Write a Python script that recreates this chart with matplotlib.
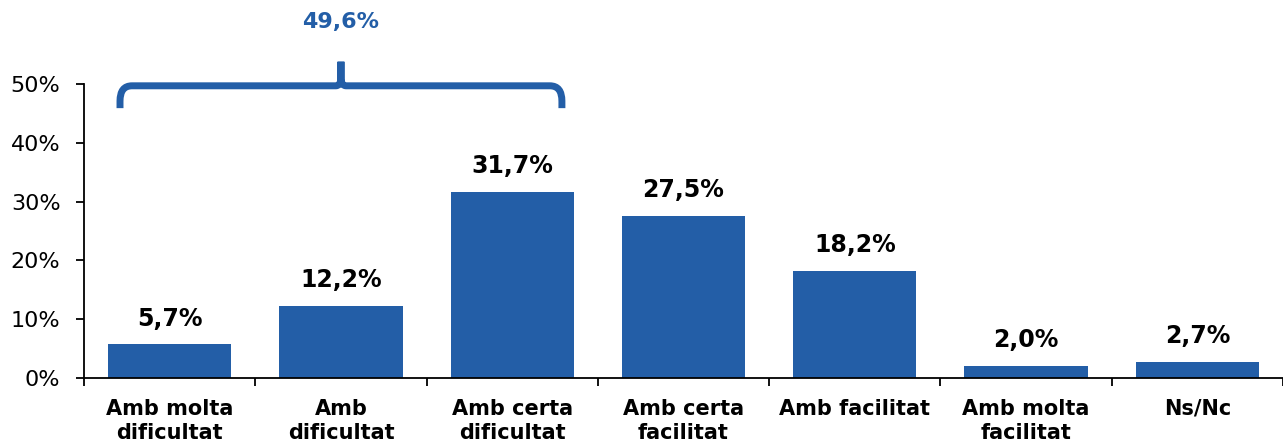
import matplotlib
matplotlib.use("Agg")
import matplotlib.pyplot as plt
from matplotlib.path import Path
from matplotlib.patches import PathPatch
from matplotlib.ticker import FixedLocator, PercentFormatter

categories = ["Amb molta\ndificultat", "Amb\ndificultat", "Amb certa\ndificultat",
              "Amb certa\nfacilitat", "Amb facilitat", "Amb molta\nfacilitat", "Ns/Nc"]
values = [5.7, 12.2, 31.7, 27.5, 18.2, 2.0, 2.7]
group_idx = [0, 1, 2]          # categories grouped by the brace
group_label = "49,6%"

BLUE = "#235EA7"

plt.rcParams["font.family"] = ["DejaVu Sans"]

fig = plt.figure(figsize=(12.83, 4.47), dpi=100)
ax = fig.add_axes([0.0655, 0.1544, 0.9345, 0.6576])

x = list(range(len(categories)))
ax.bar(x, values, width=0.72, color=BLUE, zorder=2)

for xi, v in zip(x, values):
    ax.annotate(f"{v:.1f}".replace(".", ",") + "%", (xi, v), xytext=(0, 10),
                textcoords="offset points", ha="center", va="bottom",
                fontsize=17, fontweight="bold", color="black")

ax.set_xlim(-0.5, len(categories) - 0.5)
ax.set_ylim(0, 50)
ax.set_yticks([0, 10, 20, 30, 40, 50])
ax.yaxis.set_major_formatter(PercentFormatter(decimals=0))
ax.tick_params(axis="y", labelsize=16, length=6, width=1.3, pad=11)

ax.set_xticks(x)
ax.set_xticklabels(categories, fontsize=15, fontweight="bold", linespacing=1.25)
ax.xaxis.set_minor_locator(FixedLocator([i - 0.5 for i in range(len(categories) + 1)]))
ax.tick_params(axis="x", which="major", length=0, pad=15)
ax.tick_params(axis="x", which="minor", length=6, width=1.3)

for s in ["top", "right"]:
    ax.spines[s].set_visible(False)
for s in ["left", "bottom"]:
    ax.spines[s].set_linewidth(1.3)

# curly brace over the grouped categories
xm = sum(group_idx) / len(group_idx)
half = (group_idx[-1] - group_idx[0]) / 2 + 0.29
xl, xr = xm - half, xm + half
yb, yh, yt = 45.9, 49.7, 53.8
rx, ry = 0.07, 2.6
mx, my = 0.03, 1.4
verts, codes = [], []
for a, b, sgn in [(xl, xm, 1), (xr, xm, -1)]:
    verts += [(a, yb), (a, yh - ry), (a, yh), (a + sgn * rx, yh),
              (b - sgn * mx, yh), (b, yh), (b, yh + my), (b, yt)]
    codes += [Path.MOVETO, Path.LINETO, Path.CURVE3, Path.CURVE3,
              Path.LINETO, Path.CURVE3, Path.CURVE3, Path.LINETO]
brace = PathPatch(Path(verts, codes), fill=False, edgecolor=BLUE, linewidth=5,
                  capstyle="butt", joinstyle="round", clip_on=False, zorder=3)
ax.add_patch(brace)
ax.text(xm, 60.5, group_label, ha="center", va="center", fontsize=16,
        fontweight="bold", color=BLUE, clip_on=False)

fig.savefig("out.png", dpi=100)
